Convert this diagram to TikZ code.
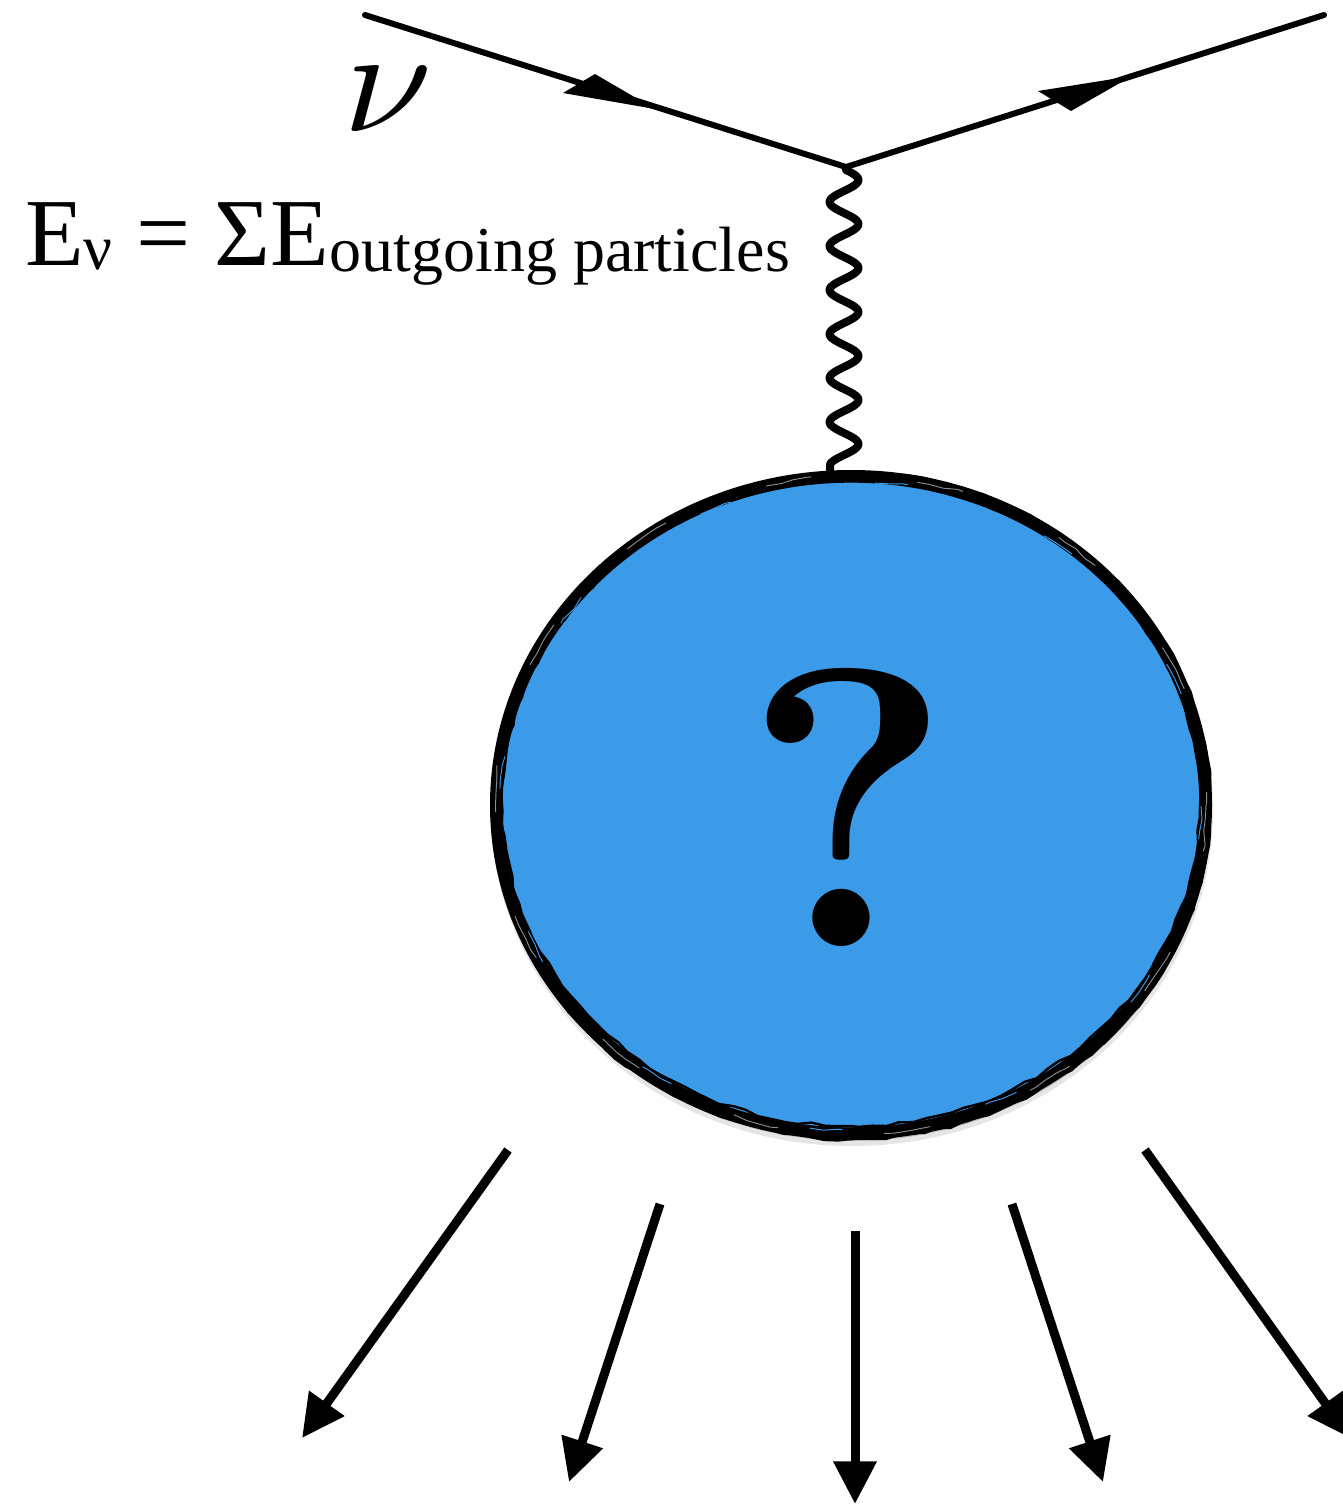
\documentclass[tikz,border=0pt]{standalone}
\usepackage{graphicx}
\usepackage{fontspec}
\setmainfont{Liberation Serif}
\newfontfamily\qfont{Latin Modern Roman}
\usetikzlibrary{arrows.meta,decorations.pathmorphing,shapes.geometric}
\definecolor{ballblue}{HTML}{3C9BE8}
\tikzset{
 fermion/.style={line width=4.5pt,line cap=round},
 boson/.style={line width=6pt,line join=round},
 outarrow/.style={line width=6.75pt,-{Triangle[length=32pt,width=31pt]}},
 label/.style={inner sep=0pt,anchor=base west,text=black},
 ballbody/.style={ellipse,inner sep=0pt,minimum width=532pt,minimum height=493pt,fill=ballblue,draw=black,line width=9.5pt},
 sketchy/.style={line width=1.8pt,decorate,decoration={random steps,segment length=10pt,amplitude=1.2pt}}
}
\begin{document}
\begin{tikzpicture}[x=0.75pt,y=-0.75pt]
\pgfmathsetseed{7}
\useasboundingbox (0,0) rectangle (1343,1504);
\coordinate (nuin) at (365,15);
\coordinate (vertex) at (846,167);
\coordinate (lout) at (1324,15);
\coordinate (bosonstub) at (830,472);
\draw[fermion] (nuin) -- (vertex) -- (lout);
\fill (563,93) -- (595,74) -- (655,109) -- cycle;
\fill (1038,91) -- (1132,76) -- (1071,111) -- cycle;
\draw[boson] (vertex) -- plot[domain=170:464,samples=160] ({844+14.5*sin(8.1818*(\x-180)+90)},\x) -- (bosonstub);
\fill[black!10] (852,811) ellipse [x radius=361,y radius=335];
\fill[black!28] (852,808) ellipse [x radius=359,y radius=333];
\node[ballbody] (ball) at (851,805) {};
\draw[sketchy] (851,808) ellipse [x radius=357,y radius=331];
\draw[sketchy] (852,805) ellipse [x radius=358,y radius=332];
\draw[sketchy] (851,803) ellipse [x radius=349,y radius=323];
\draw[sketchy,draw=black!45,line width=0.7pt,dash pattern=on 35pt off 80pt] (851,805) ellipse [x radius=355,y radius=329];
\draw[sketchy,draw=ballblue,line width=0.7pt,dash pattern=on 25pt off 110pt] (851,806) ellipse [x radius=350,y radius=324];
\node[font=\qfont\bfseries\fontsize{298}{298}\selectfont,inner sep=0pt] (q) at (848,807) {?};
\node[label] (nu) at (343,131) {\scalebox{12}[11.2]{$\nu$}};
\node[label,font=\fontsize{72}{72}\selectfont] (eq) at (25,265) {E\raisebox{-3pt}{\fontsize{48}{48}\selectfont ν} = ΣE\raisebox{-5pt}{\fontsize{48}{48}\selectfont outgoing particles}};
\coordinate (a1s) at (508,1150); \coordinate (a1e) at (302,1438);
\coordinate (a2s) at (660,1204); \coordinate (a2e) at (569,1482);
\coordinate (a3s) at (855,1231); \coordinate (a3e) at (855,1504);
\coordinate (a4s) at (1012,1204); \coordinate (a4e) at (1103,1482);
\coordinate (a5s) at (1145,1150); \coordinate (a5e) at (1350,1438);
\foreach \i in {1,...,5} \draw[outarrow] (a\i s) -- (a\i e);
\end{tikzpicture}
\end{document}
